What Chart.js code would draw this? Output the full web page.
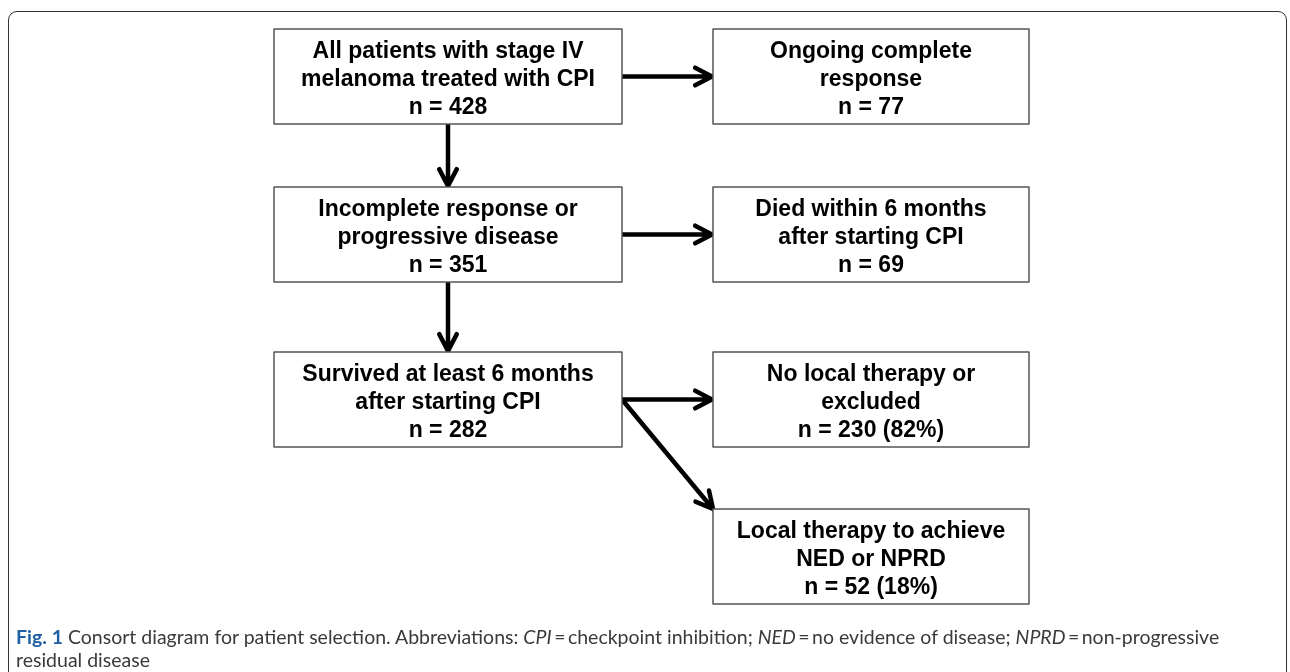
<!DOCTYPE html>
<html>
<head>
<meta charset="utf-8">
<script src="https://cdn.jsdelivr.net/npm/chart.js@4"></script>
<style>
  html, body { margin: 0; padding: 0; background: #fff; overflow: hidden; }
  #wrap { position: relative; width: 1290px; height: 672px; }
  #flow { position: absolute; left: 0; top: 0; }
  #frame {
    position: absolute; left: 8px; top: 11px; width: 1277px; height: 760px;
    border: 1.5px solid #333; border-radius: 9px; pointer-events: none;
  }
  #caption {
    position: absolute; left: 16px; top: 625px; width: 1270px; white-space: nowrap;
    font-family: Lato, "Open Sans", sans-serif; font-size: 19.5px; line-height: 23px;
    color: #3a3a3a;
  }
  #caption b { color: #1f5fa6; }
</style>
</head>
<body>
<div id="wrap">
  <canvas id="flow" width="1290" height="672"></canvas>
  <div id="frame"></div>
  <div id="caption"><b>Fig. 1</b> Consort diagram for patient selection. Abbreviations: <i>CPI</i>&#8201;=&#8201;checkpoint inhibition; <i>NED</i>&#8201;=&#8201;no evidence of disease; <i>NPRD</i>&#8201;=&#8201;non-progressive<br>residual disease</div>
</div>
<script>
// box texts and counts
var boxTitles = [
    ["All patients with stage IV", "melanoma treated with CPI"],
    ["Ongoing complete", "response"],
    ["Incomplete response or", "progressive disease"],
    ["Died within 6 months", "after starting CPI"],
    ["Survived at least 6 months", "after starting CPI"],
    ["No local therapy or", "excluded"],
    ["Local therapy to achieve", "NED or NPRD"],
];
var boxCounts = [428, 77, 351, 69, 282, 230, 52];
var boxPercents = [null, null, null, null, null, 82, 18];
// from -> to
var links = [[0, 1], [0, 2], [2, 3], [2, 4], [4, 5], [4, 6]];

// layout (data units = page pixels)
var boxX = [448, 871, 448, 871, 448, 871, 871];
var boxY = [76.5, 76.5, 234.5, 234.5, 399.5, 399.5, 556.5];
var boxW = [348, 316, 348, 316, 348, 316, 316];
var boxH = 95;

var points = [];
for (let i = 0; i < boxX.length; i++) {
    points.push({ x: boxX[i], y: boxY[i] });
}

function boxRect(chart, i) {
    var xs = chart.scales.x, ys = chart.scales.y;
    return {
        l: xs.getPixelForValue(boxX[i] - boxW[i] / 2),
        r: xs.getPixelForValue(boxX[i] + boxW[i] / 2),
        t: ys.getPixelForValue(boxY[i] - boxH / 2),
        b: ys.getPixelForValue(boxY[i] + boxH / 2),
    };
}

function drawArrow(ctx, x1, y1, x2, y2) {
    var a = Math.atan2(y2 - y1, x2 - x1);
    var len = 19, spread = 0.48;
    ctx.beginPath();
    ctx.moveTo(x1, y1);
    ctx.lineTo(x2, y2);
    ctx.moveTo(x2 - len * Math.cos(a - spread), y2 - len * Math.sin(a - spread));
    ctx.lineTo(x2, y2);
    ctx.lineTo(x2 - len * Math.cos(a + spread), y2 - len * Math.sin(a + spread));
    ctx.stroke();
}

var flowPlugin = {
    id: "flow",
    afterDatasetsDraw: function (chart) {
        var ctx = chart.ctx;
        var meta = chart.getDatasetMeta(0);
        ctx.save();
        // arrows
        ctx.strokeStyle = "#000";
        ctx.lineWidth = 4.5;
        ctx.lineCap = "round";
        ctx.lineJoin = "round";
        links.forEach(function (lk) {
            var a = boxRect(chart, lk[0]), b = boxRect(chart, lk[1]);
            var pa = meta.data[lk[0]], pb = meta.data[lk[1]];
            if (Math.abs(pa.y - pb.y) < 1) {
                drawArrow(ctx, a.r, pa.y, b.l - 1, pb.y);
            } else if (Math.abs(pa.x - pb.x) < 1) {
                drawArrow(ctx, pa.x, a.b, pb.x, b.t - 1);
            } else {
                drawArrow(ctx, a.r, pa.y, b.l, b.t);
            }
        });
        // boxes
        ctx.lineWidth = 1.5;
        ctx.strokeStyle = "#555";
        ctx.font = "bold 23px 'Liberation Sans', Arial, sans-serif";
        ctx.textAlign = "center";
        ctx.textBaseline = "middle";
        for (let i = 0; i < boxX.length; i++) {
            var r = boxRect(chart, i);
            ctx.fillStyle = "#fff";
            ctx.fillRect(r.l, r.t, r.r - r.l, r.b - r.t);
            ctx.strokeRect(r.l, r.t, r.r - r.l, r.b - r.t);
            var lines = boxTitles[i].slice();
            var n = "n = " + boxCounts[i];
            if (boxPercents[i] !== null) n += " (" + boxPercents[i] + "%)";
            lines.push(n);
            var cy = meta.data[i].y + 3;
            ctx.fillStyle = "#000";
            for (let k = 0; k < lines.length; k++) {
                ctx.fillText(lines[k], meta.data[i].x, cy + (k - 1) * 28);
            }
        }
        ctx.restore();
    },
};

new Chart(document.getElementById("flow"), {
    type: "scatter",
    data: {
        datasets: [{ data: points, pointRadius: 0, pointHoverRadius: 0 }],
    },
    options: {
        responsive: false,
        animation: false,
        events: [],
        layout: { padding: 0 },
        plugins: { legend: { display: false }, tooltip: { enabled: false } },
        scales: {
            x: { type: "linear", min: 0, max: 1290, display: false },
            y: { type: "linear", min: 0, max: 672, reverse: true, display: false },
        },
    },
    plugins: [flowPlugin],
});
</script>
</body>
</html>
